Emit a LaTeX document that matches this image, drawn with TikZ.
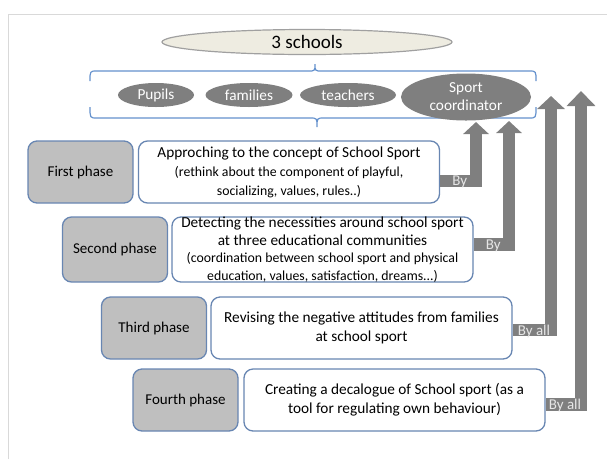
\documentclass[tikz,border=0pt]{standalone}
\usepackage{fontspec}
\setmainfont{Carlito}
\usetikzlibrary{arrows.meta,shapes.geometric}

\definecolor{framegray}{RGB}{217,217,217}
\definecolor{schoolfill}{RGB}{238,236,225}
\definecolor{schoolline}{RGB}{160,160,160}
\definecolor{bracketblue}{RGB}{100,145,205}
\definecolor{membergray}{RGB}{127,127,127}
\definecolor{phasefill}{RGB}{191,191,191}
\definecolor{boxline}{RGB}{104,134,178}
\definecolor{arrowgray}{RGB}{127,127,127}
\definecolor{labelgray}{RGB}{230,230,230}

\tikzset{
  schools/.style={ellipse, draw=schoolline, fill=schoolfill, line width=1.2pt,
    inner sep=0pt, minimum width=290pt, minimum height=25pt,
    font=\fontsize{19}{21}\selectfont},
  member/.style={ellipse, fill=membergray, text=white, inner sep=0pt,
    minimum height=24pt, align=center, font=\fontsize{15.3}{18}\selectfont},
  phasebox/.style={rectangle, rounded corners=9pt, draw=boxline, fill=phasefill,
    line width=1.3pt, inner sep=0pt, minimum width=105pt, minimum height=62pt,
    font=\fontsize{15}{18}\selectfont},
  textbox/.style={rectangle, rounded corners=9pt, draw=boxline, fill=white,
    line width=1.3pt, inner sep=0pt, minimum width=301pt, minimum height=62pt,
    align=center, font=\fontsize{15.3}{19}\selectfont},
  bracket/.style={draw=bracketblue, line width=1.2pt},
  byarrow/.style={draw=arrowgray, line width=12.5pt, line join=miter},
  bylabel/.style={text=labelgray, inner sep=0pt, anchor=west,
    font=\fontsize{15}{16}\selectfont},
}
\newcommand{\smalltext}{\fontsize{13.8}{17}\selectfont}

\begin{document}
\begin{tikzpicture}[x=1pt,y=-1pt]
\useasboundingbox (0,0) rectangle (607,459);

% page frame
\draw[framegray, line width=1pt] (8,459) -- (8,14) -- (607,14);

% schools and their communities
\node[schools] (sch) at (307,42) {3 schools};

\draw[bracket] (90,81) .. controls (90,71) .. (97,71) -- (308,71)
  .. controls (315,71) .. (315,64) .. controls (315,71) .. (322,71) -- (529,71)
  .. controls (536,71) .. (536,81);
\draw[bracket] (90,107) .. controls (90,118) .. (97,118) -- (310,118)
  .. controls (317,118) .. (317,127) .. controls (317,118) .. (324,118) -- (529,118)
  .. controls (536,118) .. (536,107);

\node[member, minimum width=76pt] (pup) at (156,95) {Pupils};
\node[member, minimum width=87pt] (fam) at (249,95) {families};
\node[member, minimum width=96pt] (tea) at (348,95) {teachers};
\node[member, minimum width=130pt, minimum height=47pt] (coord) at (466,97)
  {Sport\\coordinator};

% phases
\node[phasebox] (p1) at (80.5,172) {First phase};
\node[textbox] (t1) at (289,172)
  {Approching to the concept of School Sport\\
   {\smalltext (rethink about the component of playful,}\\
   {\smalltext socializing, values, rules..)}};

\node[phasebox, minimum height=65pt] (p2) at (115,249.5) {Second phase};
\node[textbox, minimum height=65pt, font=\fontsize{15.3}{17.5}\selectfont]
  (t2) at (322.5,249.5)
  {Detecting the necessities around school sport\\
   at three educational communities\\
   {\smalltext (coordination between school sport and physical}\\
   {\smalltext education, values, satisfaction, dreams...)}};

\node[phasebox] (p3) at (154,328) {Third phase};
\node[textbox] (t3) at (361.5,328)
  {Revising the negative attitudes from families\\ at school sport};

\node[phasebox] (p4) at (185.5,400) {Fourth phase};
\node[textbox] (t4) at (394.5,400)
  {Creating a decalogue of School sport (as a\\ tool for regulating own behaviour)};

% arrow tips below and beside the communities
\coordinate (up1) at (476,122);
\coordinate (up2) at (509,121);
\coordinate (up3) at (551,96);
\coordinate (up4) at (581,91);

\draw[byarrow, -{Triangle[width=25pt,length=12pt]}] ([yshift=-9pt]t1.east) -| (up1);
\draw[byarrow, -{Triangle[width=25pt,length=12pt]}] ([yshift=5pt]t2.east) -| (up2);
\draw[byarrow, -{Triangle[width=27pt,length=13pt]}] ([yshift=-2pt]t3.east) -| (up3);
\draw[byarrow, -{Triangle[width=28pt,length=15pt]}] ([yshift=-4.5pt]t4.east) -| (up4);

\node[bylabel] (b1) at ([xshift=12pt,yshift=-10pt]t1.east) {By};
\node[bylabel] (b2) at ([xshift=12pt,yshift=4pt]t2.east) {By};
\node[bylabel] (b3) at ([xshift=5pt,yshift=-3pt]t3.east) {By all};
\node[bylabel] (b4) at ([xshift=3pt,yshift=-5.5pt]t4.east) {By all};
\end{tikzpicture}
\end{document}
